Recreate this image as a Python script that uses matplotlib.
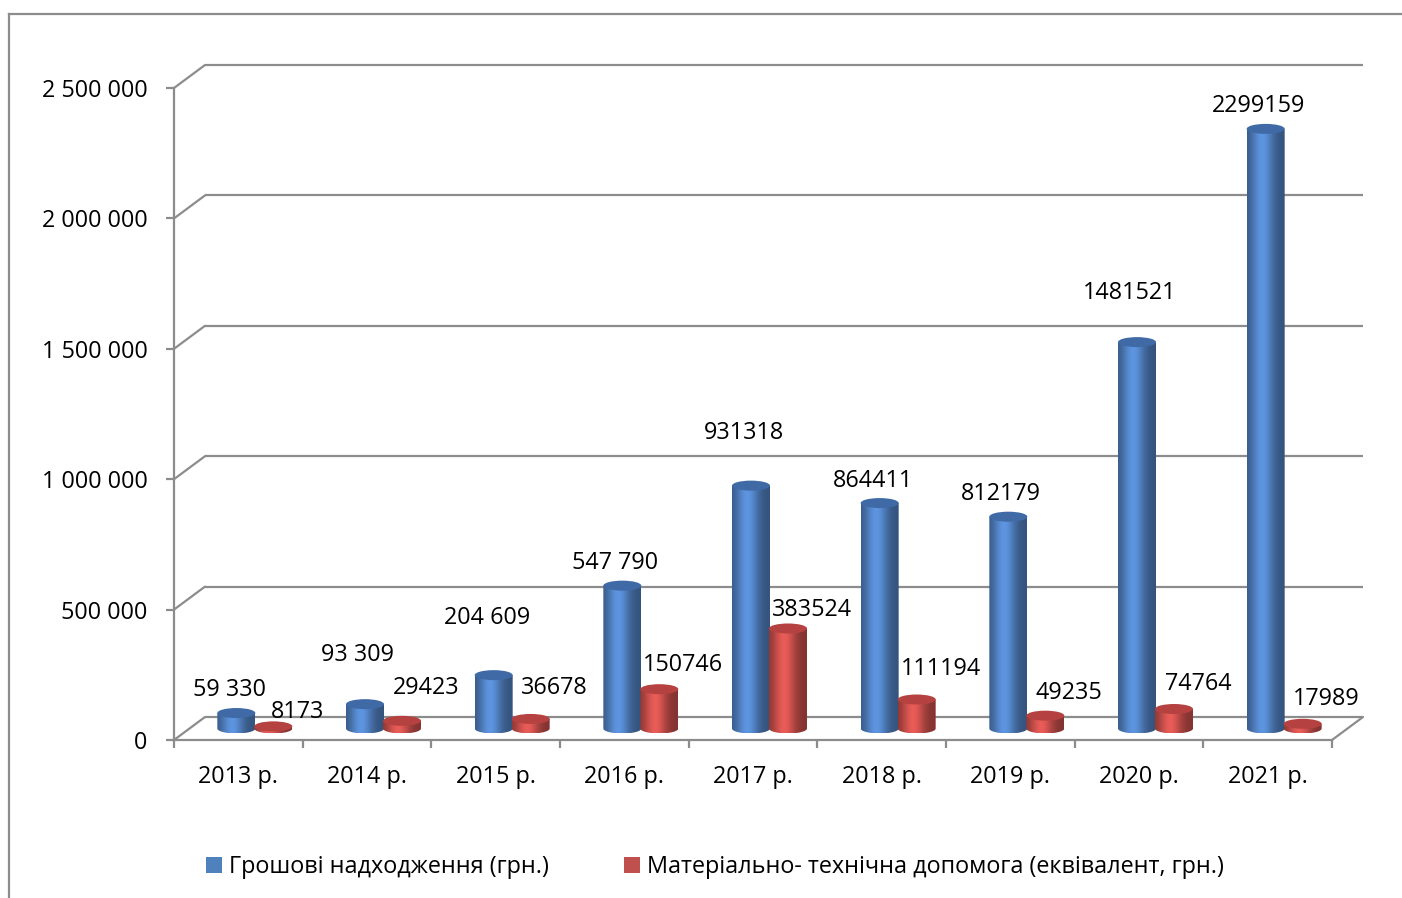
import numpy as np
import matplotlib.pyplot as plt
from matplotlib import transforms
from matplotlib.patches import Ellipse, PathPatch, Patch, ConnectionPatch
from matplotlib.lines import Line2D
from matplotlib.path import Path
from matplotlib.colors import to_rgb

plt.rcParams['font.family'] = ['Open Sans', 'DejaVu Sans']

years = ["2013 р.", "2014 р.", "2015 р.", "2016 р.", "2017 р.",
         "2018 р.", "2019 р.", "2020 р.", "2021 р."]
cash = [59330, 93309, 204609, 547790, 931318, 864411, 812179, 1481521, 2299159]
material = [8173, 29423, 36678, 150746, 383524, 111194, 49235, 74764, 17989]
cash_labels = ["59 330", "93 309", "204 609", "547 790", "931318",
               "864411", "812179", "1481521", "2299159"]
material_labels = ["8173", "29423", "36678", "150746", "383524",
                   "111194", "49235", "74764", "17989"]
series_names = ["Грошові надходження (грн.)",
                "Матеріально- технічна допомога (еквівалент, грн.)"]
y_ticks = [0, 500000, 1000000, 1500000, 2000000, 2500000]

# label lift above the cylinder top (px), as placed in the original
cash_lift = [23, 49, 57, 23, 53, 22, 23, 49, 23]
material_lift = [14, 33, 31, 24, 18, 31, 23, 25, 25]

W, H = 1402, 898
DEPTH = (31, 23)       # back wall offset, px
MID = (16.5, 11.5)     # plane where cylinders stand, px
GRID = "#8c8c8c"
FS = 16.8

fig = plt.figure(figsize=(W / 100, H / 100), dpi=100)
ax = fig.add_axes([174 / W, (H - 740) / H, (1332 - 174) / W, (740 - 88) / H])
ax.set_xlim(-0.5, len(years) - 0.5)
ax.set_ylim(0, 2500000)


def shifted(dx, dy):
    return ax.transData + transforms.ScaledTranslation(dx / 100, dy / 100, fig.dpi_scale_trans)


back = shifted(*DEPTH)
mid = shifted(*MID)
x_end = len(years) - 0.5

# walls: grid on the back wall + diagonals from the front axis
for v in y_ticks:
    ax.plot([-0.5, x_end], [v, v], color=GRID, lw=1.6,
            transform=back, clip_on=False, zorder=1, solid_capstyle='butt')
    ax.add_artist(ConnectionPatch((-0.5, v), (-0.5, v), coordsA=ax.transData, coordsB=back,
                                  color=GRID, lw=1.6, zorder=1, clip_on=False))
# right floor edge
ax.add_artist(ConnectionPatch((x_end, 0), (x_end, 0), coordsA=ax.transData, coordsB=back,
                              color=GRID, lw=1.6, zorder=1, clip_on=False))

# axes frame
for s in ['top', 'right']:
    ax.spines[s].set_visible(False)
for s in ['left', 'bottom']:
    ax.spines[s].set_color(GRID)
    ax.spines[s].set_linewidth(1.6)
ax.patch.set_alpha(0)

ax.set_yticks(y_ticks)
ax.set_yticklabels([f"{v:,}".replace(",", " ") for v in y_ticks])
ax.set_xticks(range(len(years)))
ax.set_xticklabels(years)
ax.set_xticks(np.arange(-0.5, len(years)), minor=True)
ax.tick_params(axis='y', length=6, width=1.6, color=GRID, pad=13, labelsize=FS)
ax.tick_params(axis='x', which='major', length=0, pad=18, labelsize=FS)
ax.tick_params(axis='x', which='minor', length=6, width=1.6, color=GRID)

px_x = (1332 - 174) / len(years)         # px per category
px_y = (740 - 88) / 2500000              # px per unit
bar_w = 38 / px_x
ell_h = 10 / px_y
half = 18.5 / px_x


def shade(color, n=64):
    c = np.array(to_rgb(color))
    t = np.linspace(0, 1, n)
    k = 0.62 + 0.5 * np.exp(-((t - 0.4) / 0.3) ** 2)
    k = np.clip(k, 0, 1.12)
    out = np.clip(c[None, :] * k[:, None], 0, 1)
    return out[None, :, :]


def cylinder(xc, v, body, top, z):
    th = np.linspace(np.pi, 2 * np.pi, 50)
    ex = xc + bar_w / 2 * np.cos(th)
    ey = ell_h / 2 * np.sin(th)
    verts = [(xc - bar_w / 2, v)] + list(zip(ex, ey)) + [(xc + bar_w / 2, v), (xc - bar_w / 2, v)]
    clip = PathPatch(Path(verts), transform=mid, facecolor='none', edgecolor='none', zorder=z)
    ax.add_patch(clip)
    im = ax.imshow(shade(body), extent=(xc - bar_w / 2, xc + bar_w / 2, -ell_h / 2, v),
                   aspect='auto', interpolation='bilinear', zorder=z)
    im.set_transform(mid)
    im.set_clip_path(clip)
    ax.add_patch(Ellipse((xc, v), bar_w, ell_h, transform=mid,
                         facecolor=top, edgecolor='none', zorder=z + 0.1))


blue, blue_top = "#5485c8", "#3f6aa6"
red, red_top = "#d0524e", "#b54240"

for i in range(len(years)):
    cylinder(i - half, cash[i], blue, blue_top, 3 + i * 0.01)
    cylinder(i + half, material[i], red, red_top, 3.5 + i * 0.01)
    ax.text(i - half, cash[i], cash_labels[i], fontsize=FS, ha='center', va='center',
            transform=shifted(MID[0] - 7, MID[1] + cash_lift[i]), zorder=6)
    ax.text(i + half, material[i], material_labels[i], fontsize=FS, ha='center', va='center',
            transform=shifted(MID[0] + 24, MID[1] + material_lift[i]), zorder=6)

ax.set_xlim(-0.5, x_end)
ax.set_ylim(0, 2500000)

# chart border (top and left edges visible)
fig.add_artist(Line2D([9 / W, 9 / W], [0, (H - 14) / H], color=GRID, lw=1.6))
fig.add_artist(Line2D([9 / W, 1], [(H - 14) / H, (H - 14) / H], color=GRID, lw=1.6))

handles = [Patch(facecolor="#4f81bd"), Patch(facecolor="#c0504d")]
fig.legend(handles, series_names, loc='center', bbox_to_anchor=(715 / W, (H - 867) / H),
           ncol=2, frameon=False, fontsize=FS, handlelength=0.7, handleheight=0.7,
           handletextpad=0.3, columnspacing=3.2)

fig.savefig("out.png", dpi=100)
